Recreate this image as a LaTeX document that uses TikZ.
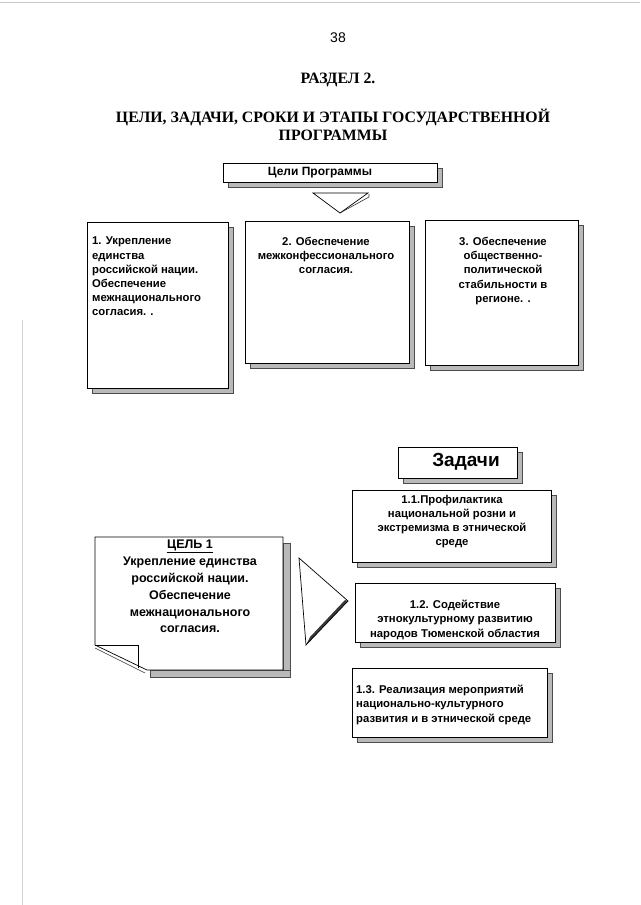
\documentclass[tikz,border=0pt]{standalone}
\usepackage{fontspec}
\setmainfont{Liberation Sans}
\newfontfamily\serifbf{Liberation Serif}
\usetikzlibrary{shadows}
\begin{document}
\begin{tikzpicture}[x=1pt,y=-1pt,
  box/.style={draw=black, line width=0.7pt, fill=white, inner sep=0pt, anchor=north west,
    drop shadow={shadow xshift=5pt, shadow yshift=-5pt, fill=gray!55, draw=gray!60!black, opacity=1}},
  btxt/.style={inner sep=0pt, font=\bfseries\fontsize{11.3}{14.2}\selectfont},
  ctxt/.style={btxt, anchor=north, align=center},
  ltxt/.style={btxt, anchor=north west, align=left},
  head/.style={inner sep=0pt, align=center, font=\serifbf\bfseries\fontsize{15.8}{17.5}\selectfont},
  shade/.style={fill=gray!55, draw=gray!60!black, line width=0.4pt},
  outline/.style={draw=black, line width=0.7pt}]
\useasboundingbox (0,0) rectangle (640,905);
\fill[white] (0,0) rectangle (640,905);
\draw[gray!45, line width=0.5pt] (0,2) -- (640,2);
\draw[gray!35, line width=0.5pt] (22,320) -- (22,905);

% headings
\node[inner sep=0pt, font=\fontsize{14}{16}\selectfont] (pg) at (338,38) {38};
\node[head] (razdel) at (338,80) {РАЗДЕЛ 2.};
\node[head] (title) at (333,125) {ЦЕЛИ, ЗАДАЧИ, СРОКИ И ЭТАПЫ ГОСУДАРСТВЕННОЙ\\ПРОГРАММЫ};

% Цели Программы
\node[box, minimum width=214pt, minimum height=19pt] (goalsbox) at (223,163) {};
\node[inner sep=0pt, font=\bfseries\fontsize{12}{14}\selectfont] (goals) at (320,173) {Цели Программы};

% down chevron
\coordinate (chl) at (313,193);
\coordinate (chr) at (368,193);
\coordinate (cha) at (340,213);
\draw[outline] (chl) -- (chr) -- (cha) -- cycle;
\draw[line width=0.6pt, gray!40!black] (cha) -- ++(29,-16) -- ++(0,-3);

% three goals
\node[box, minimum width=141pt, minimum height=166pt] (b1) at (87,222) {};
\node[ltxt] (t1) at (92,237) {1. Укрепление\\единства\\российской нации.\\Обеспечение\\межнационального\\согласия. .};
\node[box, minimum width=164pt, minimum height=142pt] (b2) at (245,221) {};
\node[ctxt] (t2) at (326,237) {2. Обеспечение\\межконфессионального\\согласия.};
\node[box, minimum width=153pt, minimum height=145pt] (b3) at (425,220) {};
\node[ctxt] (t3) at (503,237) {3. Обеспечение\\общественно-\\политической\\стабильности в\\регионе. .};

% Задачи
\node[box, minimum width=119pt, minimum height=31pt] (zbox) at (398,447) {};
\node[inner sep=0pt, font=\bfseries\fontsize{19}{21}\selectfont] (z) at (466,462) {Задачи};

% tasks
\node[box, minimum width=199pt, minimum height=72pt] (k1) at (352,490) {};
\node[ctxt] (tk1) at (452,495) {1.1.Профилактика\\национальной розни и\\экстремизма в этнической\\среде};
\node[box, minimum width=200pt, minimum height=59pt] (k2) at (355,583) {};
\node[ctxt] (tk2) at (455,600) {1.2. Содействие\\этнокультурному развитию\\народов Тюменской областия};
\node[box, minimum width=195pt, minimum height=69pt] (k3) at (352,668) {};
\node[ltxt] (tk3) at (356,685) {1.3. Реализация мероприятий\\национально-культурного\\развития и в этнической среде};

% Цель 1 page with curled corner
\fill[shade] (283,543) rectangle (290,677);
\fill[shade] (150,670) rectangle (290,677);
\coordinate (p1) at (95,537);
\coordinate (p2) at (283,537);
\coordinate (p3) at (283,670);
\coordinate (p4) at (147,670);
\coordinate (p5) at (95,645);
\coordinate (p6) at (138,645);
\coordinate (p7) at (138,668);
\draw[outline, fill=white] (p1) -- (p2) -- (p3) -- (p4) -- (p5) -- cycle;
\draw[line width=0.6pt] (p5) -- (p6) -- (p7);
\draw[line width=0.6pt, gray!40!black] (95,648) -- (145,673);
\node[inner sep=0pt, anchor=north, align=center, font=\bfseries\fontsize{12.5}{16.8}\selectfont] (c1) at (190,540)
  {\underline{ЦЕЛЬ 1}\\Укрепление единства\\российской нации.\\Обеспечение\\межнационального\\согласия.};

% right triangle arrow
\coordinate (ta) at (299,558);
\coordinate (tb) at (348,601);
\coordinate (tc) at (306,645);
\fill[gray!45!black] (tb) -- (tc) -- (310,637) -- (345,600) -- cycle;
\draw[outline] (ta) -- (tb) -- (tc) -- cycle;
\end{tikzpicture}
\end{document}
